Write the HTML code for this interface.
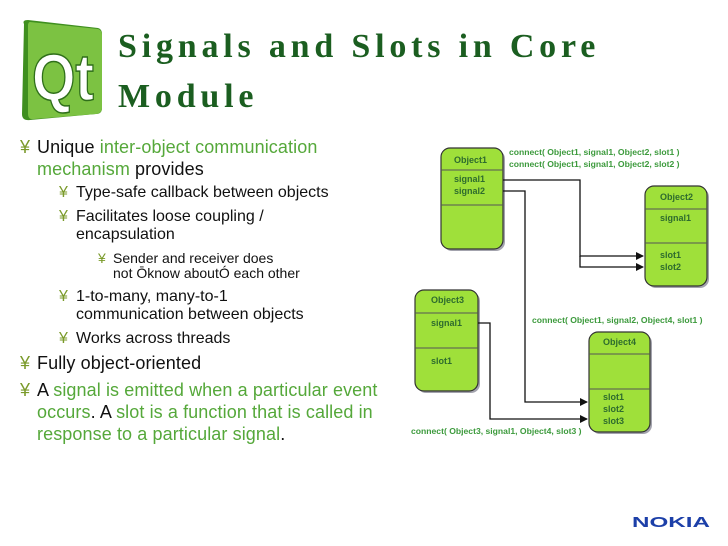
<!DOCTYPE html>
<html><head><meta charset="utf-8"><style>
body{margin:0;width:728px;height:546px;background:#fff;position:relative;overflow:hidden;font-family:"Liberation Sans",Arial,sans-serif}
.t{position:absolute;white-space:nowrap;color:#111}
.g{color:#55a83a}
.bu{position:absolute;color:#7a9a2a;white-space:nowrap}
.l1{font-size:18px;letter-spacing:0.1px}.l2{font-size:16px;letter-spacing:0}.l3{font-size:14px;letter-spacing:0}
.title{position:absolute;font-family:"Liberation Serif",serif;font-weight:bold;color:#1b5e20;font-size:34px;letter-spacing:4.8px;white-space:nowrap}
</style></head><body>
<svg style="position:absolute;left:0;top:0" width="728" height="546">
<path d="M24,24 Q22,20 28,20 L98,28 Q102,29 102,34 L102,108 Q102,114 96,114 L30,120 Q22,121 22,114 Z" fill="#3f8f1f"/>
<path d="M30,22 L98,29 Q102,30 102,35 L102,108 Q102,113 96,114 L34,119 Q28,120 28,114 L28,26 Q28,22 30,22 Z" fill="#7cc242"/>
<text x="32" y="100" font-family="Liberation Sans" font-weight="bold" font-size="66" fill="#fff" stroke="#2f6f1a" stroke-width="1.5" textLength="62" lengthAdjust="spacingAndGlyphs">Qt</text>
</svg>
<div class="title" style="left:118px;top:28px">Signals and Slots in Core</div>
<div class="title" style="left:118px;top:78px">Module</div>

<div class="bu l1" style="left:20px;top:137px">¥</div>
<div class="t l1" style="left:37px;top:137px">Unique <span class="g">inter-object communication</span></div>
<div class="t l1" style="left:37px;top:159px"><span class="g">mechanism</span> provides</div>
<div class="bu l2" style="left:59px;top:184px">¥</div>
<div class="t l2" style="left:76px;top:184px">Type-safe callback between objects</div>
<div class="bu l2" style="left:59px;top:208px">¥</div>
<div class="t l2" style="left:76px;top:208px">Facilitates loose coupling /</div>
<div class="t l2" style="left:76px;top:226px">encapsulation</div>
<div class="bu l3" style="left:98px;top:250px">¥</div>
<div class="t l3" style="left:113px;top:250px">Sender and receiver does</div>
<div class="t l3" style="left:113px;top:265px">not Ōknow aboutÓ each other</div>
<div class="bu l2" style="left:59px;top:288px">¥</div>
<div class="t l2" style="left:76px;top:288px">1-to-many, many-to-1</div>
<div class="t l2" style="left:76px;top:306px">communication between objects</div>
<div class="bu l2" style="left:59px;top:330px">¥</div>
<div class="t l2" style="left:76px;top:330px">Works across threads</div>
<div class="bu l1" style="left:20px;top:353px">¥</div>
<div class="t l1" style="left:37px;top:353px">Fully object-oriented</div>
<div class="bu l1" style="left:20px;top:380px">¥</div>
<div class="t l1" style="left:37px;top:380px">A <span class="g">signal is emitted when a particular event</span></div>
<div class="t l1" style="left:37px;top:402px"><span class="g">occurs</span>. A <span class="g">slot is a function that is called in</span></div>
<div class="t l1" style="left:37px;top:424px"><span class="g">response to a particular signal</span>.</div>

<svg style="position:absolute;left:0;top:0" width="728" height="546" font-family="Liberation Sans" font-weight="bold">
<defs><marker id="a" markerWidth="8" markerHeight="8" refX="7" refY="4" orient="auto" markerUnits="userSpaceOnUse"><path d="M0,0 L8,4 L0,8 Z" fill="#111"/></marker></defs>
<g fill="#9fe03a" stroke="#333" stroke-width="1.2">
<rect x="443" y="150" width="62" height="101" rx="9" fill="#667" stroke="none" opacity="0.6"/>
<rect x="441" y="148" width="62" height="101" rx="9"/>
<rect x="647" y="188" width="62" height="100" rx="9" fill="#667" stroke="none" opacity="0.6"/>
<rect x="645" y="186" width="62" height="100" rx="9"/>
<rect x="417" y="292" width="63" height="101" rx="9" fill="#667" stroke="none" opacity="0.6"/>
<rect x="415" y="290" width="63" height="101" rx="9"/>
<rect x="591" y="334" width="61" height="100" rx="9" fill="#667" stroke="none" opacity="0.6"/>
<rect x="589" y="332" width="61" height="100" rx="9"/>
</g>
<g stroke="#555" stroke-width="1">
<line x1="441" y1="170" x2="503" y2="170"/><line x1="441" y1="205" x2="503" y2="205"/>
<line x1="645" y1="209" x2="707" y2="209"/><line x1="645" y1="243" x2="707" y2="243"/>
<line x1="415" y1="313" x2="478" y2="313"/><line x1="415" y1="348" x2="478" y2="348"/>
<line x1="589" y1="354" x2="650" y2="354"/><line x1="589" y1="389" x2="650" y2="389"/>
</g>
<g font-size="9" fill="#2e6b2e">
<text x="454" y="163">Object1</text><text x="454" y="182">signal1</text><text x="454" y="194">signal2</text>
<text x="660" y="200">Object2</text><text x="660" y="221">signal1</text><text x="660" y="258">slot1</text><text x="660" y="270">slot2</text>
<text x="431" y="303">Object3</text><text x="431" y="326">signal1</text><text x="431" y="364">slot1</text>
<text x="603" y="345">Object4</text><text x="603" y="400">slot1</text><text x="603" y="412">slot2</text><text x="603" y="424">slot3</text>
</g>
<g fill="none" stroke="#111" stroke-width="1.3">
<path d="M503,180 H580 V256 H643" marker-end="url(#a)"/>
<path d="M580,256 V267 H643" marker-end="url(#a)"/>
<path d="M503,191 H525 V402 H587" marker-end="url(#a)"/>
<path d="M478,323 H490 V419 H587" marker-end="url(#a)"/>
</g>
<g font-size="8.6" fill="#3c9a3c">
<text x="509" y="155">connect( Object1, signal1, Object2, slot1 )</text>
<text x="509" y="167">connect( Object1, signal1, Object2, slot2 )</text>
<text x="532" y="323">connect( Object1, signal2, Object4, slot1 )</text>
<text x="411" y="434">connect( Object3, signal1, Object4, slot3 )</text>
</g>
<text x="632" y="527" font-size="15" fill="#1c3fa8" font-weight="900" textLength="78" lengthAdjust="spacingAndGlyphs">NOKIA</text>
</svg>
</body></html>
